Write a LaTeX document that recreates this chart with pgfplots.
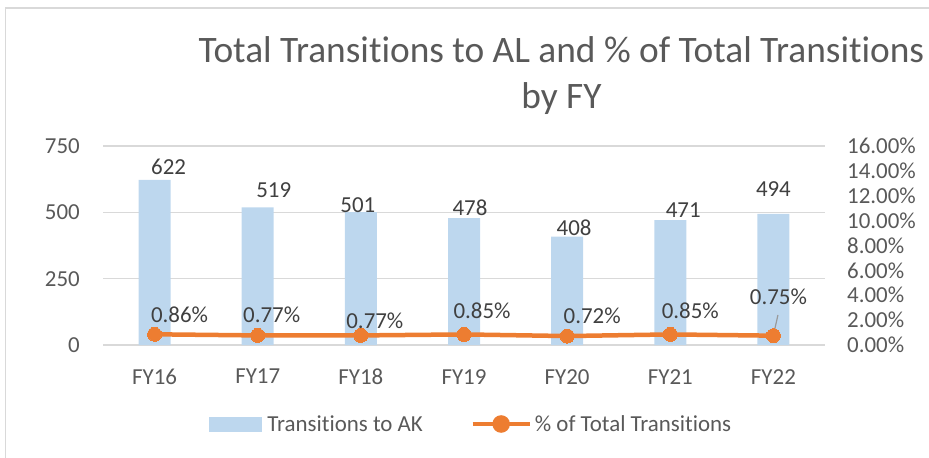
\documentclass[border=0pt]{standalone}
\usepackage{pgfplots}
\pgfplotsset{compat=1.18}
\usepackage{pgfplotstable}
\usepackage{fontspec}
\setmainfont{Carlito}[Ligatures=CommonOff]
\definecolor{barblue}{HTML}{BDD7EE}
\definecolor{lineorange}{HTML}{ED7D31}
\definecolor{txtgray}{HTML}{595959}
\definecolor{lblgray}{HTML}{404040}
\definecolor{gridgray}{HTML}{D9D9D9}
\newcommand\lblfont{\fontsize{23}{27}\selectfont}

\pgfplotstableread{
x y dx dy
0 622 14 5
1 519 16 10
2 501 -3 0
3 478 6 2.6
4 408 7 1.7
5 471 13 2.7
6 494 0 17
}\bardata

\pgfplotstableread{
x y dx dy
0 0.86 25 12.3
1 0.77 14 13.4
2 0.77 14 7.4
3 0.85 18 16.4
4 0.72 25 13
5 0.85 20 16.4
6 0.75 5 30.7
}\linedata

\pgfplotsset{/pgf/number format/assume math mode=true}

\begin{document}
\begin{tikzpicture}
\useasboundingbox (0,0) rectangle (929bp,-458bp);
\draw[gridgray, line width=1.5bp] (5.5bp,-458bp) -- (5.5bp,-8bp) -- (929bp,-8bp);
\node[font=\fontsize{37.5}{45}\selectfont, text=txtgray, anchor=base, inner sep=0pt] at (561.5bp,-62bp) {Total Transitions to AL and \% of Total Transitions};
\node[font=\fontsize{37.5}{45}\selectfont, text=txtgray, anchor=base, inner sep=0pt] at (561.5bp,-108bp) {by FY};

\begin{axis}[
  at={(103bp,-345bp)}, anchor=south west,
  scale only axis, width=722bp, height=199bp,
  xmin=-0.5, xmax=6.5, ymin=0, ymax=750,
  xtick={0,...,6}, xticklabels={FY16,FY17,FY18,FY19,FY20,FY21,FY22},
  ytick={0,250,500,750},
  ymajorgrids, grid style={draw=gridgray, line width=1.3bp},
  axis line style={draw=none}, major tick length=0pt,
  tick label style={font=\lblfont, text=txtgray},
  xticklabel style={anchor=north, inner sep=0pt, yshift=-24bp},
  yticklabel style={anchor=east, inner sep=0pt, xshift=-23bp},
  clip=false,
]
\addplot[ybar, bar width=32bp, fill=barblue, draw=none,
  visualization depends on={\thisrow{dx} \as \lblx},
  visualization depends on={\thisrow{dy} \as \lbly},
  nodes near coords={\pgfmathprintnumber{\pgfplotspointmeta}},
  nodes near coords style={font=\lblfont, text=lblgray, anchor=base, inner sep=0pt, xshift=\lblx bp, yshift=\lbly bp},
] table[x=x, y=y] {\bardata};
\end{axis}

\begin{axis}[
  at={(103bp,-345bp)}, anchor=south west,
  scale only axis, width=722bp, height=199bp,
  xmin=-0.5, xmax=6.5, ymin=0, ymax=16,
  axis x line=none, axis y line*=right,
  ytick={0,2,...,16},
  yticklabels={0.00\%,2.00\%,4.00\%,6.00\%,8.00\%,10.00\%,12.00\%,14.00\%,16.00\%},
  axis line style={draw=none}, major tick length=0pt,
  tick label style={font=\lblfont, text=txtgray},
  yticklabel style={anchor=west, inner sep=0pt, xshift=22bp},
  clip=false,
  legend columns=2,
  legend style={draw=none, fill=none, inner sep=0pt, outer sep=0pt,
    at={(0.1468,-0.397)}, anchor=west,
    nodes={inner sep=0pt, font=\lblfont, text=txtgray},
    column sep=0pt},
]
\addlegendimage{legend image code/.code={
  \fill[barblue] (0bp,-7bp) rectangle (52bp,7bp);
  \path (58bp,0bp);}}
\addlegendentry{\makebox[203bp][l]{Transitions to AK}}
\draw[gray!80, line width=1.2bp] (axis cs:6,0.75) ++(0.5bp,2.7bp) -- ++(4bp,18bp);
\addplot[color=lineorange, line width=4.5bp, mark=*, mark size=7bp,
  mark options={fill=lineorange, draw=lineorange, line width=0pt},
  legend image code/.code={
    \draw[lineorange, line width=4.5bp] (0bp,0bp) -- (57bp,0bp);
    \fill[lineorange] (28.5bp,0bp) circle (6.5bp);
    \path (60bp,0bp);},
  visualization depends on={\thisrow{dx} \as \lblx},
  visualization depends on={\thisrow{dy} \as \lbly},
  nodes near coords={\pgfmathprintnumber[fixed,fixed zerofill,precision=2]{\pgfplotspointmeta}\%},
  nodes near coords style={font=\lblfont, text=lblgray, anchor=base, inner sep=0pt, xshift=\lblx bp, yshift=\lbly bp},
] table[x=x, y=y] {\linedata};
\addlegendentry{\% of Total Transitions}
\end{axis}
\end{tikzpicture}
\end{document}
